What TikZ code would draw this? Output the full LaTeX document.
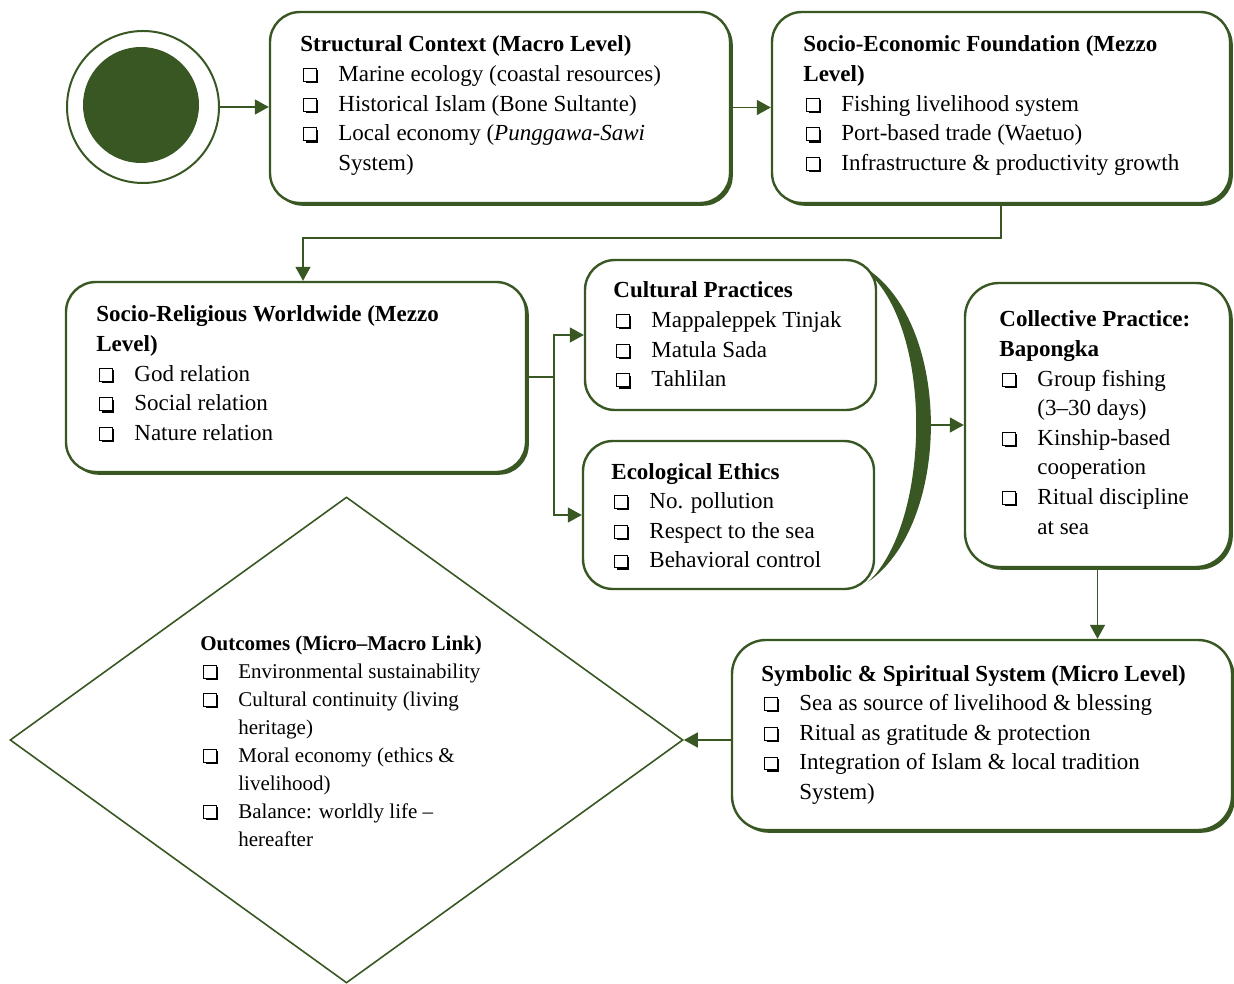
\documentclass[tikz,border=0pt]{standalone}
\usepackage{fontspec}
\setmainfont{Liberation Serif}
\usetikzlibrary{shapes.geometric,arrows.meta,shadows}
\definecolor{grn}{RGB}{56,87,35}
\newcommand\cbx{\tikz[baseline=0pt]{\fill[black] (0.9pt,-0.9pt) rectangle (7.2pt,5.6pt); \draw[black,fill=white,line width=0.5pt] (0,0) rectangle (6.3pt,6.4pt);}}
\newcommand\ck{\hspace{1.5pt}\cbx}
\tikzset{
 box/.style={draw=grn, line width=1.2pt, fill=white, rounded corners=15pt, inner sep=0pt},
 shbox/.style={box, drop shadow={shadow xshift=1.4pt, shadow yshift=-1.4pt, fill=grn, opacity=1}},
 conn/.style={draw=grn, line width=0.75pt, -{Triangle[length=7pt,width=7.5pt]}},
 wire/.style={draw=grn, line width=0.75pt},
 txt/.style={anchor=base west, inner sep=0pt, font=\fontsize{11.5}{14.8}\selectfont},
}
\begin{document}
\begin{tikzpicture}[x=0.5pt,y=-0.5pt]
\useasboundingbox (0,0) rectangle (1234,983);
% crescent bracket
\fill[grn] (850,260) .. controls (952,300) and (957,520) .. (868,582)
  .. controls (935,520) and (935,300) .. (850,260) -- cycle;
\coordinate (brk) at (929,425);
% start circle
\node[circle, draw=grn, line width=1pt, minimum size=76pt, inner sep=0pt] (c0) at (143,107) {};
\node[circle, fill=grn, minimum size=58pt, inner sep=0pt] (c1) at (141,105) {};
% boxes
\node[shbox, minimum width=230pt, minimum height=95.5pt] (b1) at (500,107.5) {};
\node[shbox, minimum width=229pt, minimum height=95.5pt] (b2) at (1001,107.5) {};
\node[shbox, minimum width=230pt, minimum height=95pt] (b3) at (296,377) {};
\node[box, minimum width=145.5pt, minimum height=75pt] (b4) at (730.5,335) {};
\node[box, minimum width=145.5pt, minimum height=74pt] (b5) at (728.5,515) {};
\node[shbox, rounded corners=17pt, minimum width=132.5pt, minimum height=142pt] (b6) at (1097.5,425) {};
\node[shbox, rounded corners=17pt, minimum width=250pt, minimum height=95pt] (b7) at (982,735) {};
\node[diamond, draw=grn, line width=0.8pt, minimum width=336.5pt, minimum height=243pt, inner sep=0pt] (dia) at (346.5,740) {};
% texts
\node[txt] (t1) at (300,52) {\begin{tabular}[t]{@{}p{19pt}@{}l@{}}
\multicolumn{2}{@{}l@{}}{\bfseries Structural Context (Macro Level)}\\
\ck & Marine ecology (coastal resources)\\
\ck & Historical Islam (Bone Sultante)\\
\ck & Local economy (\textit{Punggawa-Sawi}\\
 & System)
\end{tabular}};
\node[txt] (t2) at (803,52) {\begin{tabular}[t]{@{}p{19pt}@{}l@{}}
\multicolumn{2}{@{}l@{}}{\bfseries Socio-Economic Foundation (Mezzo}\\
\multicolumn{2}{@{}l@{}}{\bfseries Level)}\\
\ck & Fishing livelihood system\\
\ck & Port-based trade (Waetuo)\\
\ck & Infrastructure \& productivity growth
\end{tabular}};
\node[txt] (t3) at (96,322) {\begin{tabular}[t]{@{}p{19pt}@{}l@{}}
\multicolumn{2}{@{}l@{}}{\bfseries Socio-Religious Worldwide (Mezzo}\\
\multicolumn{2}{@{}l@{}}{\bfseries Level)}\\
\ck & God relation\\
\ck & Social relation\\
\ck & Nature relation
\end{tabular}};
\node[txt] (t4) at (613,298) {\begin{tabular}[t]{@{}p{19pt}@{}l@{}}
\multicolumn{2}{@{}l@{}}{\bfseries Cultural Practices}\\
\ck & Mappaleppek Tinjak\\
\ck & Matula Sada\\
\ck & Tahlilan
\end{tabular}};
\node[txt] (t5) at (611,479) {\begin{tabular}[t]{@{}p{19pt}@{}l@{}}
\multicolumn{2}{@{}l@{}}{\bfseries Ecological Ethics}\\
\ck & No. pollution\\
\ck & Respect to the sea\\
\ck & Behavioral control
\end{tabular}};
\node[txt] (t6) at (999,327) {\begin{tabular}[t]{@{}p{19pt}@{}l@{}}
\multicolumn{2}{@{}l@{}}{\bfseries Collective Practice:}\\
\multicolumn{2}{@{}l@{}}{\bfseries Bapongka}\\
\ck & Group fishing\\
 & (3--30 days)\\
\ck & Kinship-based\\
 & cooperation\\
\ck & Ritual discipline\\
 & at sea
\end{tabular}};
\node[txt] (t7) at (761,681) {\begin{tabular}[t]{@{}p{19pt}@{}l@{}}
\multicolumn{2}{@{}l@{}}{\bfseries Symbolic \& Spiritual System (Micro Level)}\\
\ck & Sea as source of livelihood \& blessing\\
\ck & Ritual as gratitude \& protection\\
\ck & Integration of Islam \& local tradition\\
 & System)
\end{tabular}};
\node[txt, font=\fontsize{10.5}{14}\selectfont] (t8) at (200,650) {\begin{tabular}[t]{@{}p{19pt}@{}l@{}}
\multicolumn{2}{@{}l@{}}{\bfseries Outcomes (Micro--Macro Link)}\\
\ck & Environmental sustainability\\
\ck & Cultural continuity (living\\
 & heritage)\\
\ck & Moral economy (ethics \&\\
 & livelihood)\\
\ck & Balance: worldly life --\\
 & hereafter
\end{tabular}};
% connectors
\draw[conn] (c0.east) -- (c0.east -| b1.west);
\draw[conn] (b1.east) -- (b2.west);
\draw[conn] (b2.south) -- ++(0,34) -| ([xshift=3.5pt]b3.north);
\draw[wire] (b3.east) -- (554,377) coordinate (sp);
\draw[conn] (sp) |- (b4.west);
\draw[conn] (sp) |- (b5.west);
\draw[conn] (brk) -- (brk -| b6.west);
\draw[conn] (b6.south) -- (b6.south |- b7.north);
\draw[conn] (dia.east -| b7.west) -- (dia.east);
\end{tikzpicture}
\end{document}
